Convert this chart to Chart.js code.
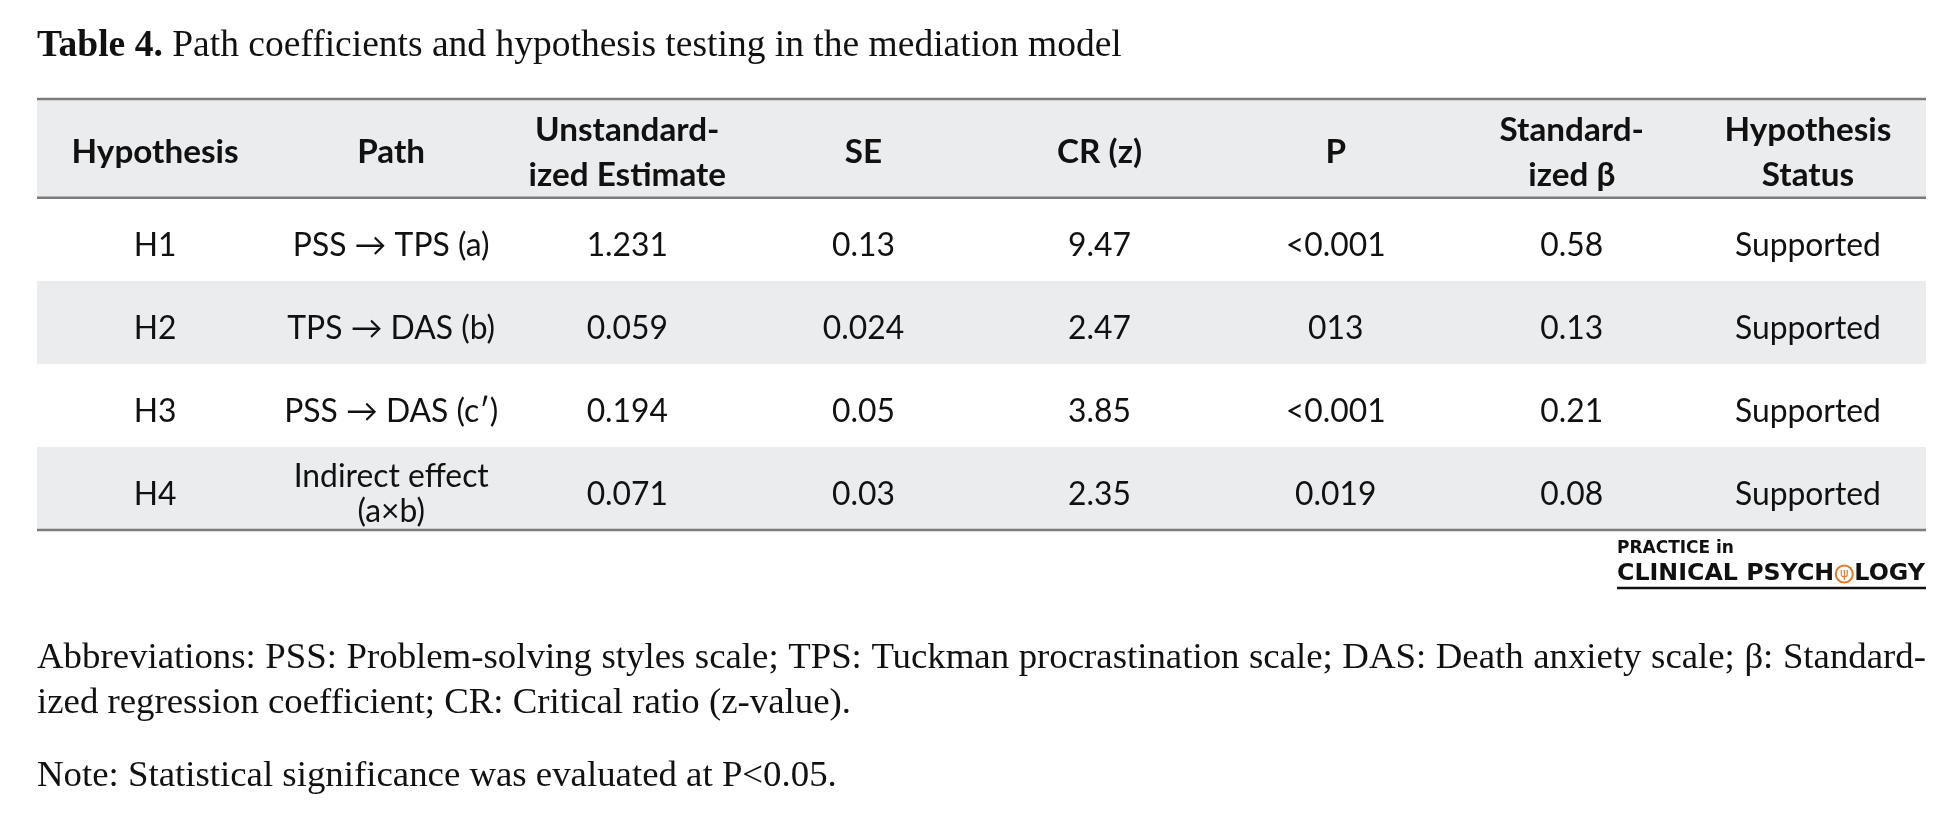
<!DOCTYPE html>
<html>
<head>
<meta charset="utf-8">
<script src="https://cdn.jsdelivr.net/npm/chart.js@4.4.1/dist/chart.umd.min.js"></script>
<style>
  html, body { margin: 0; padding: 0; background: #fff; overflow: hidden; }
  canvas { display: block; }
</style>
</head>
<body>
<canvas id="pathTable" width="1944" height="822"></canvas>
<script>
// table content
const headers = [['Hypothesis'], ['Path'], ['Unstandard-', 'ized Estimate'], ['SE'], ['CR (z)'], ['P'], ['Standard-', 'ized β'], ['Hypothesis', 'Status']];
const hypotheses = ['H1', 'H2', 'H3', 'H4'];
const paths = [['PSS → TPS (a)'], ['TPS → DAS (b)'], ['PSS → DAS (c′)'], ['Indirect effect', '(a×b)']];
const estimates = ['1.231', '0.059', '0.194', '0.071'];
const stdErrors = ['0.13', '0.024', '0.05', '0.03'];
const crValues = ['9.47', '2.47', '3.85', '2.35'];
const pValues = ['<0.001', '013', '<0.001', '0.019'];
const betas = ['0.58', '0.13', '0.21', '0.08'];
const statuses = ['Supported', 'Supported', 'Supported', 'Supported'];
const shadedRows = [false, true, false, true];

const titleBold = 'Table 4.';
const titleText = ' Path coefficients and hypothesis testing in the mediation model';
const abbrevLines = [
    'Abbreviations: PSS: Problem-solving styles scale; TPS: Tuckman procrastination scale; DAS: Death anxiety scale; β: Standard-',
    'ized regression coefficient; CR: Critical ratio (z-value).'
];
const noteText = 'Note: Statistical significance was evaluated at P<0.05.';

const HEADER_H = 1.19; // header band height in row units
const GREY = '#ebecee';
const RULE = '#7c7c7c';
const INK = '#111111';
const SANS = 'Lato, "DejaVu Sans", sans-serif';
const SERIF = '"Liberation Serif", "DejaVu Serif", serif';

// font size so that text fills a given width
function fitSize(ctx, text, weight, family, target) {
    ctx.font = `${weight} 100px ${family}`;
    return 100 * target / ctx.measureText(text).width;
}

function drawLines(ctx, lines, cx, cy, gap) {
    const top = cy - gap * (lines.length - 1) / 2;
    lines.forEach((l, i) => ctx.fillText(l, cx, top + gap * i));
}

function drawJustified(ctx, text, x0, x1, y) {
    const words = text.split(' ');
    const total = words.reduce((s, w) => s + ctx.measureText(w).width, 0);
    const space = (x1 - x0 - total) / (words.length - 1);
    let x = x0;
    words.forEach(w => {
        ctx.fillText(w, x, y);
        x += ctx.measureText(w).width + space;
    });
}

const tablePlugin = {
    id: 'tablePlugin',
    beforeDraw(chart) {
        const ctx = chart.ctx;
        const xs = chart.scales.x, ys = chart.scales.y;
        const left = xs.getPixelForValue(0), right = xs.getPixelForValue(headers.length);

        ctx.save();
        ctx.fillStyle = '#fff';
        ctx.fillRect(0, 0, chart.width, chart.height);

        // shaded bands
        ctx.fillStyle = GREY;
        const band = (a, b) => {
            const y0 = ys.getPixelForValue(a), y1 = ys.getPixelForValue(b);
            ctx.fillRect(left, y0, right - left, y1 - y0);
        };
        band(-HEADER_H, 0);
        shadedRows.forEach((s, i) => { if (s) band(i, i + 1); });

        // rules
        ctx.strokeStyle = RULE;
        ctx.lineWidth = 2.5;
        [-HEADER_H, 0, hypotheses.length].forEach(v => {
            const yy = ys.getPixelForValue(v);
            ctx.beginPath();
            ctx.moveTo(left, yy);
            ctx.lineTo(right, yy);
            ctx.stroke();
        });

        // header text
        ctx.fillStyle = INK;
        ctx.textAlign = 'center';
        ctx.textBaseline = 'middle';
        const hSize = fitSize(ctx, 'Hypothesis', 'bold', SANS, 167);
        ctx.font = `bold ${hSize}px ${SANS}`;
        const hy = ys.getPixelForValue(-HEADER_H / 2);
        headers.forEach((h, c) => drawLines(ctx, h, xs.getPixelForValue(c + 0.5), hy + 4, 45));

        // body
        const bSize = fitSize(ctx, 'Supported', 'normal', SANS, 146);
        ctx.font = `${bSize}px ${SANS}`;
        const cols = [hypotheses, paths, estimates, stdErrors, crValues, pValues, betas, statuses];
        hypotheses.forEach((_, r) => {
            const cy = ys.getPixelForValue(r + 0.5) + 6;
            cols.forEach((col, c) => {
                const v = col[r];
                drawLines(ctx, Array.isArray(v) ? v : [v], xs.getPixelForValue(c + 0.5), cy, 35);
            });
        });

        // title
        ctx.textAlign = 'left';
        ctx.font = `bold 100px ${SERIF}`;
        const wb = ctx.measureText(titleBold).width;
        ctx.font = `100px ${SERIF}`;
        const wr = ctx.measureText(titleText).width;
        const tSize = 100 * 1085 / (wb + wr);
        ctx.font = `bold ${tSize}px ${SERIF}`;
        ctx.fillText(titleBold, left, 46);
        ctx.font = `${tSize}px ${SERIF}`;
        ctx.fillText(titleText, left + wb * tSize / 100, 46);

        // footnotes
        const fSize = fitSize(ctx, noteText, 'normal', SERIF, 800);
        ctx.font = `${fSize}px ${SERIF}`;
        drawJustified(ctx, abbrevLines[0], left, right, 658);
        ctx.fillText(abbrevLines[1], left, 703);
        ctx.fillText(noteText, left, 776);

        // journal mark
        const lx = 1617;
        const smallSize = fitSize(ctx, 'PRACTICE in', 'bold', '"DejaVu Sans"', 117);
        ctx.font = `bold ${smallSize}px "DejaVu Sans"`;
        ctx.fillText('PRACTICE in', lx, 549);
        const bigFull = 'CLINICAL PSYCHOLOGY';
        const bigSize = fitSize(ctx, bigFull, 'bold', '"DejaVu Sans"', 308);
        ctx.font = `bold ${bigSize}px "DejaVu Sans"`;
        const partA = 'CLINICAL PSYCH';
        const wA = ctx.measureText(partA).width;
        const wO = ctx.measureText('O').width;
        ctx.fillText(partA, lx, 574);
        ctx.fillText('LOGY', lx + wA + wO, 574);
        ctx.strokeStyle = '#e07b2a';
        ctx.lineWidth = 2;
        ctx.beginPath();
        ctx.arc(lx + wA + wO / 2, 574, bigSize * 0.36, 0, Math.PI * 2);
        ctx.stroke();
        ctx.fillStyle = '#e07b2a';
        ctx.textAlign = 'center';
        ctx.font = `${bigSize * 0.55}px "DejaVu Sans"`;
        ctx.fillText('ψ', lx + wA + wO / 2, 574);
        ctx.strokeStyle = INK;
        ctx.lineWidth = 2.5;
        ctx.beginPath();
        ctx.moveTo(lx, 588);
        ctx.lineTo(right, 588);
        ctx.stroke();
        ctx.restore();
    }
};

new Chart(document.getElementById('pathTable'), {
    type: 'scatter',
    data: { datasets: [] },
    options: {
        responsive: false,
        animation: false,
        devicePixelRatio: 1,
        layout: { padding: { left: 37, right: 18, top: 99, bottom: 292 } },
        plugins: { legend: { display: false }, tooltip: { enabled: false } },
        scales: {
            x: { type: 'linear', min: 0, max: headers.length, display: false },
            y: { type: 'linear', min: -HEADER_H, max: hypotheses.length, reverse: true, display: false }
        }
    },
    plugins: [tablePlugin]
});
</script>
</body>
</html>
